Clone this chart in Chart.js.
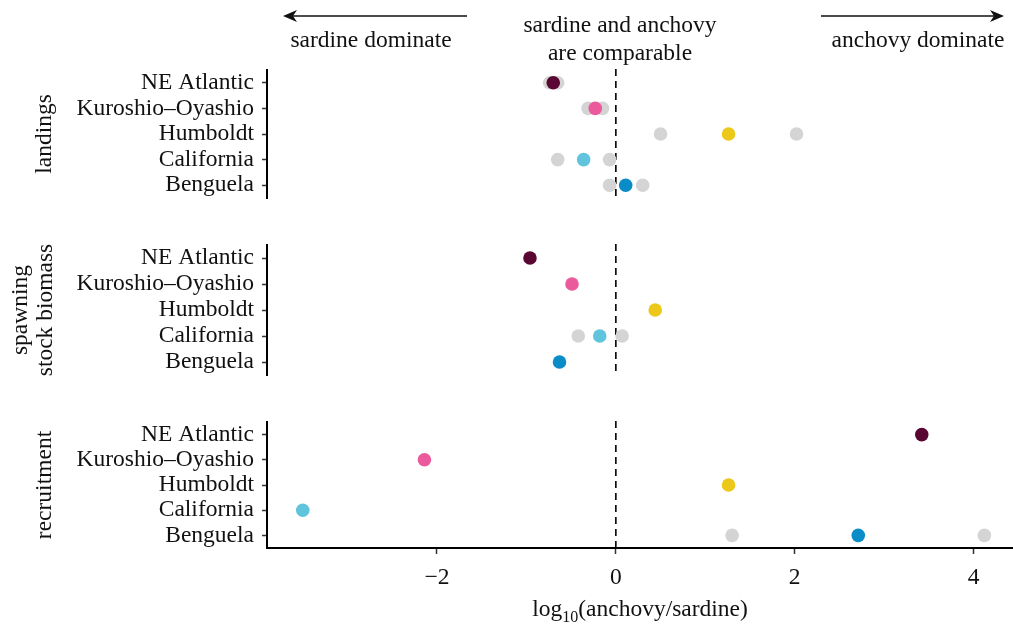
<!DOCTYPE html>
<html>
<head>
<meta charset="utf-8">
<script src="https://cdn.jsdelivr.net/npm/chart.js@4"></script>
<style>
  html, body { margin: 0; padding: 0; background: #fff; }
  #wrap { position: relative; width: 1013px; height: 629px; }
  #wrap canvas { position: absolute; left: 0; top: 0; }
</style>
</head>
<body>
<div id="wrap">
  <canvas id="c1" width="1013" height="629"></canvas>
  <canvas id="c2" width="1013" height="629"></canvas>
  <canvas id="c3" width="1013" height="629"></canvas>
</div>
<script>
// stocks, top to bottom in every panel
const stocks = ['NE Atlantic', 'Kuroshio–Oyashio', 'Humboldt', 'California', 'Benguela'];
const stockColors = ['#5a0632', '#eb5a9c', '#ebc81a', '#5fc4dc', '#0a8cc8'];
const grey = '#d4d4d4';

// log10(anchovy/sardine)
const landingsMid  = [-0.70, -0.23, 1.26, -0.36, 0.11];
const landingsLow  = [-0.74, -0.31, 0.50, -0.65, -0.07];
const landingsHigh = [-0.65, -0.15, 2.02, -0.07, 0.30];

const ssbMid  = [-0.96, -0.49, 0.44, -0.18, -0.63];
const ssbLow  = [null, null, null, -0.42, null];
const ssbHigh = [null, null, null, 0.07, null];

const recMid  = [3.42, -2.14, 1.26, -3.50, 2.71];
const recLow  = [null, null, null, null, 1.30];
const recHigh = [null, null, null, null, 4.12];

const xMin = -3.9;
const xMax = 4.44;
const xTicks = [-2, 0, 2, 4];

const serif = 'Liberation Serif';
const ink = '#111';
const fs = 23.5;

function puntos(vals) {
  return stocks.map((s, i) => ({ x: vals[i], y: s })).filter(p => p.x !== null);
}

// linea discontinua en x = 0
const lineaCero = {
  id: 'lineaCero',
  beforeDatasetsDraw(chart) {
    const { ctx, chartArea } = chart;
    const x = chart.scales.x.getPixelForValue(0);
    ctx.save();
    ctx.strokeStyle = '#000';
    ctx.lineWidth = 1.6;
    ctx.setLineDash([7, 5]);
    ctx.beginPath();
    ctx.moveTo(x, chartArea.top - 1);
    ctx.lineTo(x, chartArea.bottom);
    ctx.stroke();
    ctx.restore();
  }
};

function flecha(ctx, x0, y, x1) {
  const dir = Math.sign(x1 - x0);
  ctx.beginPath();
  ctx.moveTo(x0, y);
  ctx.lineTo(x1 - dir * 8, y);
  ctx.stroke();
  ctx.beginPath();
  ctx.moveTo(x1, y);
  ctx.lineTo(x1 - dir * 14, y - 6);
  ctx.lineTo(x1 - dir * 10, y);
  ctx.lineTo(x1 - dir * 14, y + 6);
  ctx.closePath();
  ctx.fill();
}

// encabezado con flechas
const encabezado = {
  id: 'encabezado',
  afterDraw(chart) {
    const { ctx } = chart;
    ctx.save();
    ctx.fillStyle = ink;
    ctx.strokeStyle = ink;
    ctx.lineWidth = 1.6;
    ctx.font = fs + 'px "' + serif + '"';
    ctx.textAlign = 'center';
    ctx.textBaseline = 'alphabetic';
    ctx.fillText('sardine and anchovy', 620, 32);
    ctx.fillText('are comparable', 620, 60);
    ctx.fillText('sardine dominate', 371, 47);
    ctx.fillText('anchovy dominate', 918, 47);
    flecha(ctx, 467, 16, 283);
    flecha(ctx, 821, 16, 1004);
    ctx.restore();
  }
};

// titulo del eje x con subindice
const tituloX = {
  id: 'tituloX',
  afterDraw(chart) {
    const { ctx, chartArea } = chart;
    const big = fs + 'px "' + serif + '"';
    const small = '16px "' + serif + '"';
    ctx.save();
    ctx.fillStyle = ink;
    ctx.textBaseline = 'alphabetic';
    ctx.textAlign = 'left';
    ctx.font = big;
    const w1 = ctx.measureText('log').width;
    const w3 = ctx.measureText('(anchovy/sardine)').width;
    ctx.font = small;
    const w2 = ctx.measureText('10').width;
    const cx = (chartArea.left + chartArea.right) / 2;
    let x = cx - (w1 + w2 + w3) / 2;
    const y = 616;
    ctx.font = big;
    ctx.fillText('log', x, y);
    x += w1;
    ctx.font = small;
    ctx.fillText('10', x, y + 6);
    x += w2;
    ctx.font = big;
    ctx.fillText('(anchovy/sardine)', x, y);
    ctx.restore();
  }
};

function crearPanel(id, titulo, tituloPad, mid, low, high, padTop, padBottom, conEjeX, extras) {
  const gris = puntos(low).concat(puntos(high));
  return new Chart(document.getElementById(id), {
    type: 'scatter',
    data: {
      datasets: [
        {
          data: puntos(mid),
          pointBackgroundColor: stockColors.filter((c, i) => mid[i] !== null),
          pointBorderWidth: 0,
          pointRadius: 6.8,
          pointHoverRadius: 6.8
        },
        {
          data: gris,
          pointBackgroundColor: grey,
          pointBorderWidth: 0,
          pointRadius: 6.8,
          pointHoverRadius: 6.8
        }
      ]
    },
    options: {
      responsive: false,
      animation: false,
      events: [],
      layout: { autoPadding: false, padding: { top: padTop, bottom: padBottom, left: 0, right: 0 } },
      plugins: { legend: { display: false }, tooltip: { enabled: false } },
      scales: {
        x: {
          type: 'linear',
          display: conEjeX,
          min: xMin,
          max: xMax,
          border: { display: true, color: '#000', width: 2 },
          grid: { drawOnChartArea: false, drawTicks: true, tickLength: 6, tickWidth: 1.5, tickColor: '#333' },
          afterBuildTicks: s => { s.ticks = xTicks.map(v => ({ value: v })); },
          ticks: {
            color: ink,
            padding: 10,
            font: { family: serif, size: fs },
            callback: v => (v < 0 ? '\u2212' + Math.abs(v) : String(v))
          },
          afterFit: s => { if (conEjeX) s.height = 81; }
        },
        y: {
          type: 'category',
          labels: stocks,
          offset: true,
          border: { display: true, color: '#000', width: 2 },
          grid: { offset: false, drawOnChartArea: false, drawTicks: true, tickLength: 5, tickWidth: 1.5, tickColor: '#333' },
          ticks: { color: ink, padding: 8, autoSkip: false, font: { family: serif, size: fs } },
          title: {
            display: true,
            text: titulo,
            color: ink,
            font: { family: serif, size: fs, lineHeight: 1.08 },
            padding: { top: tituloPad, bottom: 0 }
          },
          afterFit: s => { s.width = 267; }
        }
      }
    },
    plugins: [lineaCero].concat(extras)
  });
}

crearPanel('c1', 'landings', 32, landingsMid, landingsLow, landingsHigh, 70, 431, false, [encabezado]);
crearPanel('c2', ['spawning', 'stock biomass'], 8, ssbMid, ssbLow, ssbHigh, 245, 254, false, []);
crearPanel('c3', 'recruitment', 32, recMid, recLow, recHigh, 422, 0, true, [tituloX]);
</script>
</body>
</html>
